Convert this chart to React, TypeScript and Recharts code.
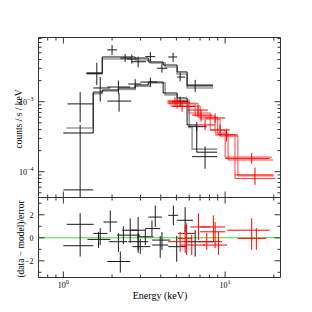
import { ComposedChart, Line, Scatter, ErrorBar, XAxis, YAxis } from "recharts";

const FRAME = "#333";
const FONT = "'Liberation Serif', 'DejaVu Serif', serif";

// axes
const energyDomain = [0.702, 22.0];
const energyTicks = [0.8, 0.9, 1, 2, 3, 4, 5, 6, 7, 8, 9, 10, 20];
const countsDomain = [4.28e-5, 8.26e-3];
const countsTicks = [
  5e-5, 6e-5, 7e-5, 8e-5, 9e-5, 1e-4, 2e-4, 3e-4, 4e-4, 5e-4, 6e-4, 7e-4, 8e-4, 9e-4,
  1e-3, 2e-3, 3e-3, 4e-3, 5e-3, 6e-3, 7e-3, 8e-3,
];
const residDomain = [-3.45, 3.5];
const residTicks = [-3, -2, -1, 0, 1, 2, 3];

// spectra: [E, E lo, E hi, counts, counts lo, counts hi]
const blackUpper = [
  [1.27, 1.0, 1.53, 5.5e-5, 4.3e-5, 4.65e-4],
  [1.27, 1.06, 1.53, 0.93e-3, 0.51e-3, 1.38e-3],
  [1.61, 1.39, 1.74, 2.55e-3, 1.73e-3, 3.6e-3],
  [2.0, 1.87, 2.15, 5.5e-3, 4.65e-3, 6.46e-3],
  [2.41, 2.25, 2.63, 4.2e-3, 3.7e-3, 4.8e-3],
  [2.65, 2.48, 2.86, 4.07e-3, 3.5e-3, 4.7e-3],
  [2.9, 2.63, 3.25, 3.72e-3, 3.1e-3, 4.4e-3],
  [3.45, 3.21, 3.7, 4.4e-3, 3.8e-3, 5.1e-3],
  [4.07, 3.8, 4.39, 3.0e-3, 2.6e-3, 3.5e-3],
  [4.77, 4.45, 5.05, 4.35e-3, 3.7e-3, 5.0e-3],
  [5.27, 5.05, 5.66, 2.25e-3, 1.95e-3, 2.6e-3],
  [6.53, 5.82, 8.42, 1.73e-3, 1.38e-3, 2.05e-3],
];
const blackLower = [
  [1.69, 1.53, 1.95, 1.57e-3, 1.0e-3, 2.25e-3],
  [2.19, 1.87, 2.59, 1.62e-3, 1.3e-3, 2.0e-3],
  [2.21, 1.87, 2.63, 1.02e-3, 0.72e-3, 1.33e-3],
  [2.78, 2.52, 3.03, 1.79e-3, 1.55e-3, 2.1e-3],
  [3.45, 2.99, 3.8, 1.91e-3, 1.65e-3, 2.2e-3],
  [5.27, 4.7, 5.91, 1.0e-3, 0.84e-3, 1.18e-3],
  [6.68, 5.91, 7.7, 4.4e-4, 3.8e-4, 5.1e-4],
  [7.52, 6.25, 8.92, 1.64e-4, 1.1e-4, 2.3e-4],
];
const redSpec = [
  [5.05, 4.39, 6.08, 0.96e-3, 0.8e-3, 1.12e-3],
  [4.9, 4.45, 5.6, 1.02e-3, 0.88e-3, 1.16e-3],
  [5.42, 4.7, 6.53, 0.855e-3, 0.72e-3, 1.0e-3],
  [6.81, 5.91, 7.85, 0.76e-3, 0.63e-3, 0.88e-3],
  [7.1, 6.25, 8.3, 0.645e-3, 0.52e-3, 0.77e-3],
  [7.52, 6.53, 8.67, 0.465e-3, 0.39e-3, 0.55e-3],
  [8.67, 7.52, 10.0, 0.585e-3, 0.5e-3, 0.68e-3],
  [9.31, 8.08, 10.7, 0.394e-3, 0.32e-3, 0.47e-3],
  [10.2, 8.67, 12.0, 0.335e-3, 0.27e-3, 0.41e-3],
  [14.6, 10.0, 18.9, 0.155e-3, 0.13e-3, 0.185e-3],
  [15.3, 11.5, 19.8, 0.09e-3, 0.065e-3, 0.115e-3],
];

// folded models: bin edges and values
const upperEdges = [1.39, 1.74, 2.78, 3.35, 4.14, 5.05, 5.82, 8.42];
const upperVals = [2.57e-3, 4.35e-3, 4.2e-3, 3.69e-3, 3.34e-3, 2.66e-3, 1.68e-3];
const upperAltEdges = [1.39, 1.74, 2.78, 3.45, 4.26, 5.05, 5.82, 8.42];
const upperAltVals = [2.5e-3, 4.07e-3, 3.94e-3, 3.57e-3, 3.13e-3, 2.49e-3, 1.57e-3];
const lowerEdges = [1.0, 1.53, 1.74, 2.19, 2.78, 3.35, 4.14, 5.05, 5.82, 6.68, 8.92];
const lowerVals = [3.57e-4, 1.37e-3, 1.47e-3, 1.57e-3, 1.73e-3, 1.91e-3, 1.33e-3, 1.13e-3, 4.65e-4, 1.9e-4];
const lowerAltEdges = [1.044, 1.53, 1.74, 2.19, 2.78, 3.45, 4.26, 5.05, 6.0, 6.25, 8.92];
const lowerAltVals = [4.2e-4, 1.3e-3, 1.42e-3, 1.5e-3, 1.66e-3, 1.85e-3, 1.25e-3, 1.05e-3, 4.3e-4, 2.1e-4];
const red1Edges = [4.39, 5.91, 8.08, 10.0, 19.5];
const red1Vals = [1.02e-3, 0.69e-3, 0.394e-3, 0.162e-3];
const red2Edges = [4.45, 6.53, 8.67, 10.43, 19.8];
const red2Vals = [0.93e-3, 0.625e-3, 0.357e-3, 0.147e-3];
const red3Edges = [4.58, 7.01, 9.31, 12.0, 20.1];
const red3Vals = [0.87e-3, 0.566e-3, 0.323e-3, 0.087e-3];
const red4Edges = [4.5, 6.8, 9.0, 11.5, 20.5];
const red4Vals = [0.95e-3, 0.6e-3, 0.34e-3, 0.08e-3];

// residuals: [E, E lo, E hi, res, res lo, res hi]
const blackResid = [
  [1.27, 1.05, 1.54, 1.17, 0.23, 2.14],
  [1.27, 1.0, 1.53, -0.69, -1.63, 0.23],
  [1.69, 1.53, 1.87, 0.38, -0.63, 0.83],
  [1.95, 1.77, 2.15, 1.37, 0.51, 2.37],
  [1.65, 1.41, 1.95, -0.14, -0.88, 0.51],
  [2.25, 1.87, 2.59, -2.06, -3.02, -1.2],
  [2.19, 1.91, 2.48, -0.34, -1.22, 0.4],
  [2.35, 2.15, 2.99, 0.23, -0.54, 1.0],
  [2.59, 2.31, 2.9, 0.66, -0.45, 1.69],
  [2.9, 2.59, 3.21, 0.66, -1.05, 1.8],
  [2.9, 2.52, 3.35, -0.34, -1.31, 0.4],
  [2.99, 2.67, 3.45, -0.77, -1.4, -0.11],
  [3.7, 3.35, 4.07, 1.8, 0.94, 2.8],
  [3.53, 3.21, 3.97, 0.8, 0.15, 1.5],
  [4.07, 3.54, 4.58, -0.2, -1.05, 0.49],
  [4.79, 4.45, 5.12, 1.95, 1.09, 2.8],
  [5.66, 5.05, 6.33, 1.52, 0.51, 2.66],
  [3.21, 2.86, 3.6, 0.09, -0.63, 0.75],
  [3.97, 3.54, 4.45, -0.63, -1.74, 0.15],
  [6.53, 5.66, 8.42, -0.34, -1.63, 0.66],
  [5.02, 4.45, 5.72, -0.77, -2.08, 0.15],
];
const redResid = [
  [5.78, 5.12, 6.53, 0.38, -1.48, 1.26],
  [6.84, 6.08, 8.08, 0.94, -0.2, 2.12],
  [8.67, 7.01, 10.0, 0.52, -0.88, 1.37],
  [7.7, 6.8, 9.6, -0.34, -1.05, 0.4],
  [8.46, 7.01, 10.0, 0.94, -0.34, 1.95],
  [9.09, 7.3, 10.3, -0.63, -1.48, 0.51],
  [14.6, 10.3, 18.9, 0.66, -1.05, 1.69],
  [15.6, 12.0, 17.9, -0.05, -1.05, 0.83],
  [5.66, 5.12, 6.25, -0.05, -1.31, 1.09],
  [6.22, 5.27, 7.52, -0.63, -1.48, 0.23],
  [5.27, 4.45, 6.25, -0.34, -1.2, 0.5],
];

const toPoints = (rows: number[][]) =>
  rows.map(([e, el, eh, v, vl, vh]) => ({ e, v, ex: [e - el, eh - e], ey: [v - vl, vh - v] }));
const toSteps = (edges: number[], vals: number[]) =>
  edges.map((e, i) => ({ e, v: vals[Math.min(i, vals.length - 1)] }));
const zeroLine = energyDomain.map((e) => ({ e, v: 0 }));

const minus = (n: number) => (n < 0 ? "\u2212" + Math.abs(n) : String(n));

function Tick(props: any) {
  const { x, y, payload, side, kind, showLabel } = props;
  const val = payload.value;
  let major: boolean;
  let exp = 0;
  if (kind === "log") {
    const lg = Math.log10(val);
    exp = Math.round(lg);
    major = Math.abs(lg - exp) < 1e-6;
  } else {
    major = Math.abs(val) % 2 === 0;
  }
  const len = major ? 6 : 3;
  let x2 = x, y2 = y;
  if (side === "left") x2 = x + len;
  if (side === "right") x2 = x - len;
  if (side === "top") y2 = y + len;
  if (side === "bottom") y2 = y - len;
  let label = null;
  if (showLabel && major) {
    const body =
      kind === "log" ? (
        <>
          10<tspan dy={-4} fontSize={6}>{minus(exp)}</tspan>
        </>
      ) : (
        minus(val)
      );
    label =
      side === "left" ? (
        <text x={x - 5} y={y + 3} textAnchor="end" fontSize={8} fontFamily={FONT} fill="#000">
          {body}
        </text>
      ) : (
        <text x={x} y={y + 10} textAnchor="middle" fontSize={8} fontFamily={FONT} fill="#000">
          {body}
        </text>
      );
  }
  return (
    <g>
      <line x1={x} y1={y} x2={x2} y2={y2} stroke={FRAME} strokeWidth={1} />
      {label}
    </g>
  );
}

function Title(props: any) {
  const { px, py, text, rot = 0, size = 10 } = props;
  return (
    <text
      x={px}
      y={py}
      transform={rot ? `rotate(${rot} ${px} ${py})` : undefined}
      textAnchor="middle"
      dominantBaseline="central"
      fontSize={size}
      fontFamily={FONT}
      fill="#000"
    >
      {text}
    </text>
  );
}

const NoMark = () => <g />;

const stepLine = (key: string, edges: number[], vals: number[], color: string, w: number) => (
  <Line
    key={key}
    data={toSteps(edges, vals)}
    dataKey="v"
    type="stepAfter"
    stroke={color}
    strokeWidth={w}
    dot={false}
    activeDot={false}
    isAnimationActive={false}
  />
);

const crosses = (rows: number[][], color: string) => (
  <Scatter data={toPoints(rows)} dataKey="v" shape={NoMark} isAnimationActive={false}>
    <ErrorBar dataKey="ex" direction="x" width={0} stroke={color} strokeWidth={1} isAnimationActive={false} />
    <ErrorBar dataKey="ey" direction="y" width={0} stroke={color} strokeWidth={1} isAnimationActive={false} />
  </Scatter>
);

const commonX = {
  dataKey: "e",
  type: "number" as const,
  scale: "log" as const,
  domain: energyDomain,
  allowDataOverflow: true,
  ticks: energyTicks,
  interval: 0 as const,
  tickSize: 0,
  tickMargin: 0,
  tickLine: false,
  axisLine: { stroke: FRAME },
  height: 1,
};

export default function App() {
  return (
    <div style={{ position: "absolute", left: 0, top: 0, width: 312, height: 312, background: "#fff" }}>
      <div style={{ position: "absolute", left: 0, top: 0 }}>
        <ComposedChart width={312} height={200} margin={{ top: 36.5, right: 30.5, bottom: 1.5, left: 0 }}>
          <XAxis {...commonX} tick={<Tick side="bottom" kind="log" />} />
          <XAxis {...commonX} xAxisId="t" orientation="top" tick={<Tick side="top" kind="log" />} />
          <YAxis
            type="number"
            scale="log"
            domain={countsDomain}
            allowDataOverflow
            ticks={countsTicks}
            interval={0}
            width={38.5}
            tickSize={0}
            tickMargin={0}
            tickLine={false}
            axisLine={{ stroke: FRAME }}
            tick={<Tick side="left" kind="log" showLabel />}
            label={<Title px={18.5} py={119} rot={-90} size={9.5} text="counts / s / keV" />}
          />
          <YAxis
            yAxisId="r"
            orientation="right"
            type="number"
            scale="log"
            domain={countsDomain}
            allowDataOverflow
            ticks={countsTicks}
            interval={0}
            width={1}
            tickSize={0}
            tickMargin={0}
            tickLine={false}
            axisLine={{ stroke: FRAME }}
            tick={<Tick side="right" kind="log" />}
          />
          {stepLine("ua", upperAltEdges, upperAltVals, "#9a9a9a", 1.6)}
          {stepLine("la", lowerAltEdges, lowerAltVals, "#9a9a9a", 1.6)}
          {stepLine("u", upperEdges, upperVals, "#111", 1)}
          {stepLine("l", lowerEdges, lowerVals, "#111", 1)}
          {stepLine("r1", red1Edges, red1Vals, "#ff4040", 1)}
          {stepLine("r2", red2Edges, red2Vals, "#ff4040", 1)}
          {stepLine("r3", red3Edges, red3Vals, "#ff4040", 1)}
          {stepLine("r4", red4Edges, red4Vals, "#ff4040", 1)}
          {crosses(blackUpper, "#1a1a1a")}
          {crosses(blackLower, "#1a1a1a")}
          {crosses(redSpec, "#ff0000")}
        </ComposedChart>
      </div>
      <div style={{ position: "absolute", left: 0, top: 190 }}>
        <ComposedChart width={312} height={122} margin={{ top: 6.5, right: 30.5, bottom: 0, left: 0 }}>
          <XAxis
            {...commonX}
            height={34.5}
            tick={<Tick side="bottom" kind="log" showLabel />}
            label={<Title px={160} py={105} size={10} text="Energy (keV)" />}
          />
          <XAxis {...commonX} xAxisId="t" orientation="top" tick={<Tick side="top" kind="log" />} />
          <YAxis
            type="number"
            domain={residDomain}
            allowDataOverflow
            ticks={residTicks}
            interval={0}
            width={38.5}
            tickSize={0}
            tickMargin={0}
            tickLine={false}
            axisLine={{ stroke: FRAME }}
            tick={<Tick side="left" kind="lin" showLabel />}
            label={<Title px={20.5} py={49} rot={-90} size={9.5} text="(data − model)/error" />}
          />
          <YAxis
            yAxisId="r"
            orientation="right"
            type="number"
            domain={residDomain}
            allowDataOverflow
            ticks={residTicks}
            interval={0}
            width={1}
            tickSize={0}
            tickMargin={0}
            tickLine={false}
            axisLine={{ stroke: FRAME }}
            tick={<Tick side="right" kind="lin" />}
          />
          <Line
            data={zeroLine}
            dataKey="v"
            stroke="#3ddc3d"
            strokeWidth={1}
            dot={false}
            activeDot={false}
            isAnimationActive={false}
          />
          {crosses(blackResid, "#1a1a1a")}
          {crosses(redResid, "#ff0000")}
        </ComposedChart>
      </div>
    </div>
  );
}
